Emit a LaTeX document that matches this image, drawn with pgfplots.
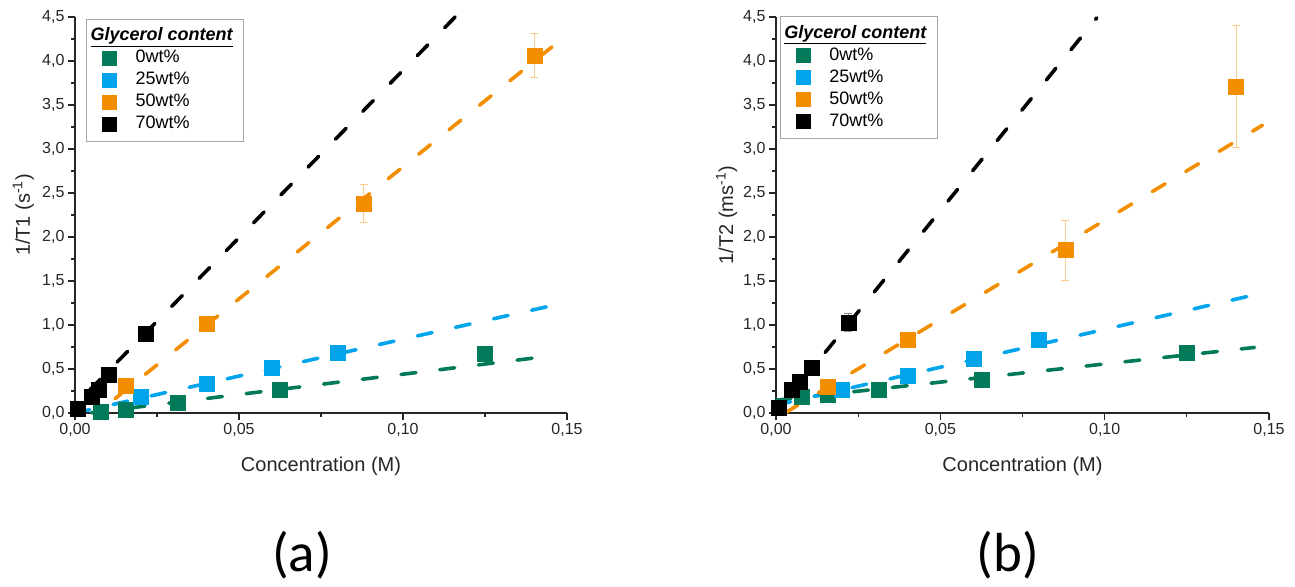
\documentclass[border=0pt]{standalone}
\usepackage{fontspec}
\setmainfont{Liberation Sans}
\newfontfamily\panelfont{Carlito}
\usepackage{pgfplots}
\usepackage{pgfplotstable}
\pgfplotsset{compat=1.18}

\definecolor{gZero}{RGB}{0,122,88}
\definecolor{gTwentyFive}{RGB}{0,164,234}
\definecolor{gFifty}{RGB}{242,142,0}
\definecolor{gSeventy}{RGB}{0,0,0}

% ---- 1/T1 relaxivity data (concentration in M) ----
\pgfplotstableread{
c v e
0.0078 0.02 0
0.0156 0.04 0
0.03125 0.12 0
0.0625 0.27 0
0.125 0.67 0
}\tOneZero
\pgfplotstableread{
c v e
0.02 0.18 0
0.04 0.33 0
0.06 0.52 0
0.08 0.69 0
}\tOneTwentyFive
\pgfplotstableread{
c v e
0.0156 0.31 0
0.04 1.01 0
0.088 2.38 0.22
0.14 4.06 0.25
}\tOneFifty
\pgfplotstableread{
c v e
0.0008 0.05 0
0.0051 0.19 0
0.0073 0.27 0
0.0103 0.43 0
0.0215 0.90 0
}\tOneSeventy

% ---- 1/T2 relaxivity data ----
\pgfplotstableread{
c v e
0.0078 0.185 0
0.0156 0.205 0
0.03125 0.27 0
0.0625 0.38 0
0.125 0.69 0
}\tTwoZero
\pgfplotstableread{
c v e
0.02 0.27 0
0.04 0.42 0
0.06 0.62 0
0.08 0.83 0
}\tTwoTwentyFive
\pgfplotstableread{
c v e
0.0156 0.30 0
0.04 0.83 0
0.088 1.85 0.34
0.14 3.71 0.69
}\tTwoFifty
\pgfplotstableread{
c v e
0.0007 0.065 0
0.0048 0.26 0
0.0073 0.36 0
0.0108 0.51 0
0.022 1.03 0.10
}\tTwoSeventy

\pgfplotsset{
  relaxplot/.style={
    scale only axis, width=492pt, height=396pt,
    xmin=0, xmax=0.15, ymin=0, ymax=4.5,
    clip=false,
    axis lines=left,
    axis line style={-, line width=1.2pt, black!85},
    xtick={0,0.05,0.10,0.15},
    ytick={0,0.5,1,1.5,2,2.5,3,3.5,4,4.5},
    minor x tick num=1, minor y tick num=1,
    tick align=outside,
    major tick length=7pt, minor tick length=4pt,
    every tick/.style={line width=1.1pt, black!85},
    /pgf/number format/assume math mode=true,
    xticklabel style={/pgf/number format/.cd, fixed, fixed zerofill, precision=2, use comma},
    yticklabel style={/pgf/number format/.cd, fixed, fixed zerofill, precision=1, use comma},
    tick label style={font=\fontsize{16}{19}\selectfont, text=black!85},
    label style={font=\fontsize{20}{24}\selectfont, text=black!85},
    xlabel={Concentration (M)},
    xlabel style={at={(axis description cs:0.5,-0.1465)}, anchor=base},
    legend cell align=left,
    legend style={
      draw=black!35, line width=1pt,
      font=\fontsize{18}{22}\selectfont,
      inner xsep=8pt, inner ysep=6pt,
      row sep=0pt, column sep=11pt,
      nodes={inner xsep=0pt, inner ysep=2.5pt, text height=13pt, text depth=4pt},
    },
    legend image code/.code={
      \path[draw=none, fill=none] (0pt,-7.5pt) rectangle (30pt,7.5pt);
      \path[##1, draw=none] (7.5pt,-7.5pt) rectangle (22.5pt,7.5pt);
    },
  },
  pts/.style={only marks, mark=square*, mark size=7.5pt, color=#1, fill=#1,
    error bars/.cd, y dir=both, y explicit,
    error bar style={color=#1!45, line width=1pt},
    error mark options={rotate=90, mark size=4pt, color=#1!45, line width=1pt}},
  fit/.style={color=#1, line width=3.6pt, line cap=round,
    dash pattern=on 15pt off 24pt, forget plot},
}

\newcommand{\legendtitle}{\makebox[100pt][l]{\hspace*{-45pt}\textbf{\textit{\underline{Glycerol content}}}}}

\begin{document}
\begin{tikzpicture}
\useasboundingbox (0,0) rectangle (1295pt,586pt);
\fill[white] (0,0) rectangle (1295pt,586pt);

% (a) longitudinal relaxation rate
\begin{axis}[relaxplot, at={(75pt,173pt)}, anchor=south west,
  ylabel={1/T1 (s\textsuperscript{-1})},
  ylabel style={at={(axis description cs:-0.0915,0.5)}, anchor=base},
  legend style={at={(axis description cs:0.0224,0.995)}, anchor=north west}]
  \addlegendimage{empty legend}
  \addlegendentry{\legendtitle}
  \addplot[pts=gZero] table[x=c, y=v, y error=e]{\tOneZero};
  \addlegendentry{0wt\%}
  \addplot[pts=gTwentyFive] table[x=c, y=v, y error=e]{\tOneTwentyFive};
  \addlegendentry{25wt\%}
  \addplot[pts=gFifty] table[x=c, y=v, y error=e]{\tOneFifty};
  \addlegendentry{50wt\%}
  \addplot[pts=gSeventy] table[x=c, y=v, y error=e]{\tOneSeventy};
  \addlegendentry{70wt\%}
  % linear fits
  \addplot[fit=gZero] coordinates {(0.005,0.003) (0.1454,0.65)};
  \addplot[fit=gTwentyFive] coordinates {(0,0) (0.1454,1.22)};
  \addplot[fit=gFifty] coordinates {(0.1454,4.16) (0.0068,0)};
  \addplot[fit=gSeventy] coordinates {(0.1159,4.5) (0,0.09)};
\end{axis}

% (b) transverse relaxation rate
\begin{axis}[relaxplot, at={(776pt,173pt)}, anchor=south west, width=493pt,
  ylabel={1/T2 (ms\textsuperscript{-1})},
  ylabel style={at={(axis description cs:-0.087,0.5)}, anchor=base},
  legend style={at={(axis description cs:0.008,1.0025)}, anchor=north west}]
  \addlegendimage{empty legend}
  \addlegendentry{\legendtitle}
  \addplot[pts=gZero] table[x=c, y=v, y error=e]{\tTwoZero};
  \addlegendentry{0wt\%}
  \addplot[pts=gTwentyFive] table[x=c, y=v, y error=e]{\tTwoTwentyFive};
  \addlegendentry{25wt\%}
  \addplot[pts=gFifty] table[x=c, y=v, y error=e]{\tTwoFifty};
  \addlegendentry{50wt\%}
  \addplot[pts=gSeventy] table[x=c, y=v, y error=e]{\tTwoSeventy};
  \addlegendentry{70wt\%}
  % linear fits
  \addplot[fit=gZero] coordinates {(0,0.145) (0.1456,0.745)};
  \addplot[fit=gTwentyFive] coordinates {(0,0.09) (0.1453,1.34)};
  \addplot[fit=gFifty] coordinates {(0.0027,0) (0.148,3.27)};
  \addplot[fit=gSeventy] coordinates {(0,0) (0.0976,4.49)};
\end{axis}

% panel letters
\node[font=\panelfont\fontsize{55}{60}\selectfont, anchor=base] at (302pt,14pt) {(a)};
\node[font=\panelfont\fontsize{55}{60}\selectfont, anchor=base] at (1008pt,14pt) {(b)};
\end{tikzpicture}
\end{document}
